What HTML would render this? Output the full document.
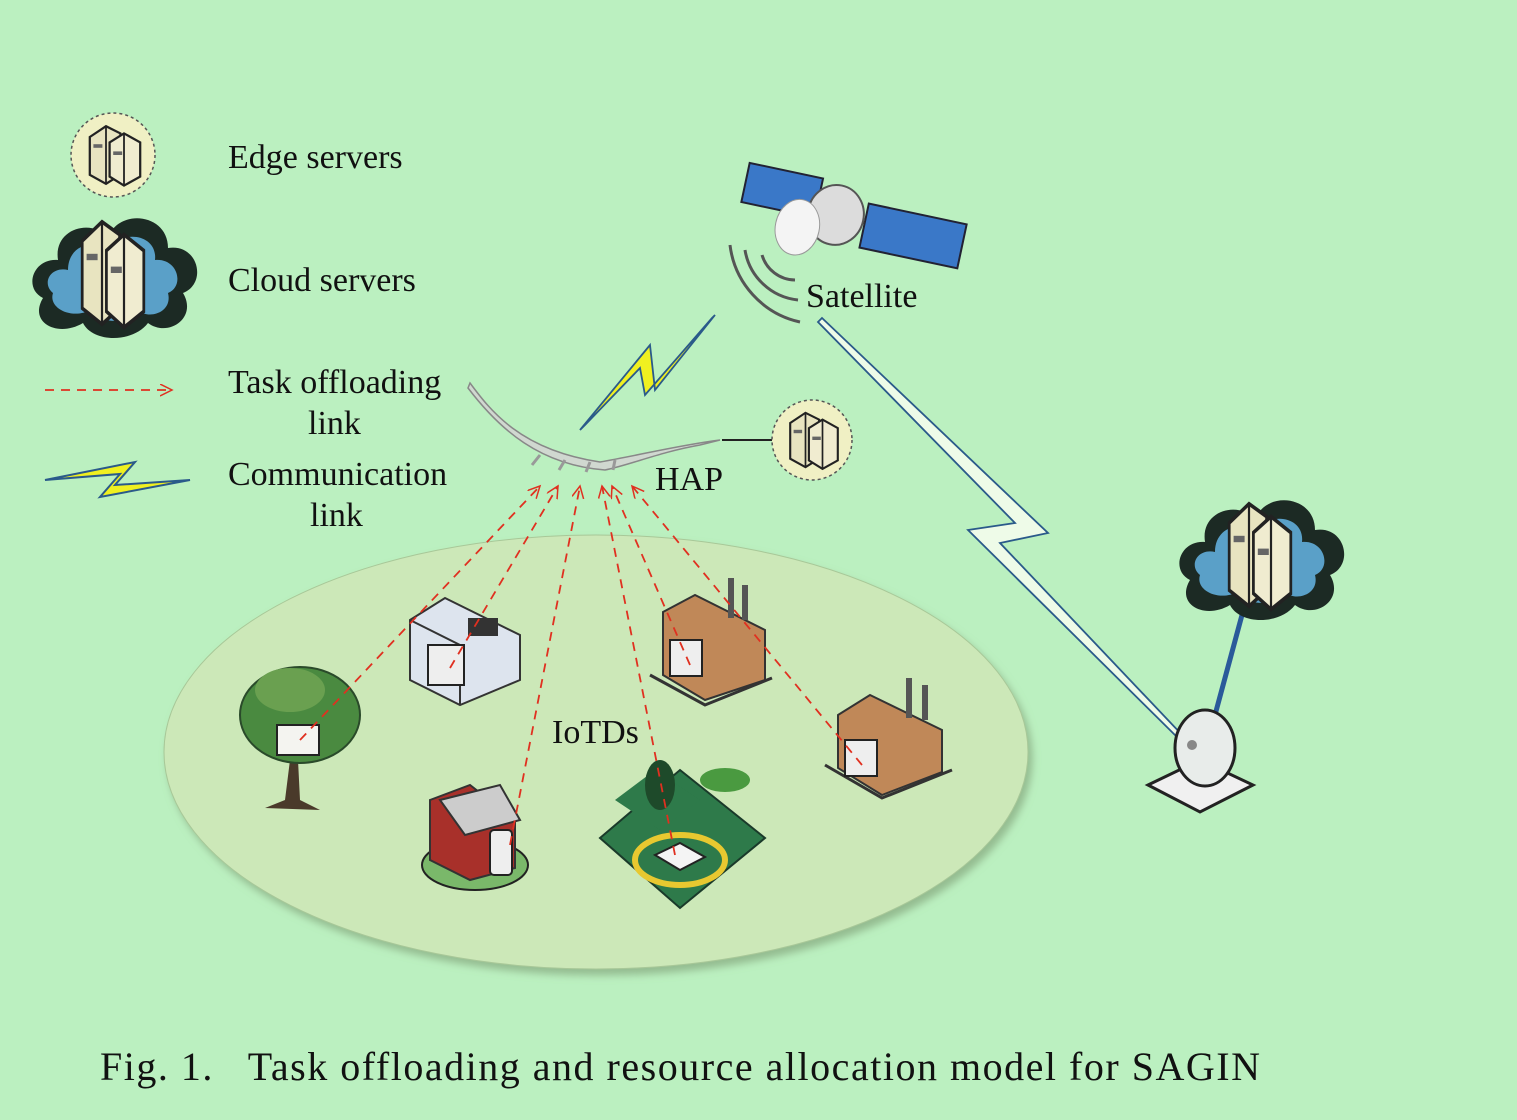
<!DOCTYPE html>
<html><head><meta charset="utf-8"><style>
html,body{margin:0;padding:0;background:#bbf0c0;}
svg{display:block;}
text{font-family:"Liberation Serif",serif;fill:#111;}
</style></head><body>
<svg width="1517" height="1120" viewBox="0 0 1517 1120" xmlns="http://www.w3.org/2000/svg">
<defs>
<filter id="sh" x="-10%" y="-10%" width="130%" height="130%"><feDropShadow dx="4" dy="6" stdDeviation="4" flood-color="#7a9a70" flood-opacity="0.6"/></filter>
<marker id="ar" markerWidth="14" markerHeight="14" refX="12" refY="6" orient="auto" markerUnits="userSpaceOnUse"><path d="M0,0 L12,6 L0,12" fill="none" stroke="#e03020" stroke-width="1.5"/></marker>
<g id="srv">
<path d="M-28,-20 L-10,-32 L6,-24 L6,22 L-10,32 L-28,22 Z" fill="#e8e4c0" stroke="#222" stroke-width="2.5"/>
<path d="M-10,-32 L-10,32" stroke="#222" stroke-width="2"/>
<path d="M-6,-14 L10,-24 L28,-14 L28,24 L10,34 L-6,24 Z" fill="#f0ecd0" stroke="#222" stroke-width="2.5"/>
<path d="M10,-24 L10,34" stroke="#222" stroke-width="2"/>
<rect x="-24" y="-12" width="10" height="4" fill="#666"/><rect x="-2" y="-4" width="10" height="4" fill="#666"/>
</g>
<g id="cloud">
<path d="M-70,20 C-90,10 -80,-20 -55,-18 C-60,-50 -20,-60 -5,-40 C5,-70 55,-65 55,-30 C85,-35 95,5 70,15 C85,40 55,60 35,45 C20,65 -20,65 -30,45 C-55,60 -85,45 -70,20 Z" fill="#1c2a24"/>
<path d="M-60,15 C-72,5 -62,-12 -45,-8 C-45,-35 -15,-40 -5,-25 C5,-50 45,-45 42,-18 C65,-20 72,8 55,15 C60,35 35,42 25,32 C15,48 -15,45 -22,32 C-42,42 -65,30 -60,15 Z" fill="#5aa0c8"/>
<g transform="translate(0,-5) scale(1.1,1.6)"><use href="#srv"/></g>
</g>
</defs>
<rect width="1517" height="1120" fill="#bbf0c0"/>

<ellipse cx="596" cy="752" rx="432" ry="217" fill="#cce8b8" stroke="#a8c898" stroke-width="1" filter="url(#sh)"/>

<!-- legend -->
<circle cx="113" cy="155" r="42" fill="#f0f0c4" stroke="#555" stroke-dasharray="3,3" stroke-width="1.5"/>
<g transform="translate(115,155) scale(0.9)"><use href="#srv"/></g>
<text x="228" y="168" font-size="34">Edge servers</text>
<g transform="translate(113,278)"><use href="#cloud"/></g>
<text x="228" y="291" font-size="34">Cloud servers</text>
<line x1="45" y1="390" x2="172" y2="390" stroke="#e03020" stroke-width="1.8" stroke-dasharray="9,7" marker-end="url(#ar)"/>
<text x="228" y="393" font-size="34">Task offloading</text>
<text x="308" y="434" font-size="34">link</text>
<polygon points="45,480 135,462 115,485 190,480 100,497 120,474" fill="#f0f020" stroke="#2a5a8a" stroke-width="2"/>
<text x="228" y="485" font-size="34">Communication</text>
<text x="310" y="526" font-size="34">link</text>

<!-- satellite -->
<g transform="rotate(12 850 220)">
<rect x="740" y="185" width="75" height="40" fill="#3a78c8" stroke="#223" stroke-width="2"/>
<rect x="865" y="200" width="100" height="45" fill="#3a78c8" stroke="#223" stroke-width="2"/>
<line x1="815" y1="210" x2="865" y2="220" stroke="#333" stroke-width="3"/>
<ellipse cx="835" cy="218" rx="28" ry="30" fill="#dcdcdc" stroke="#555" stroke-width="2"/>
<ellipse cx="800" cy="238" rx="22" ry="28" fill="#f4f4f4" stroke="#999"/>
</g>
<path d="M730,245 A90,90 0 0 0 800,322" fill="none" stroke="#555" stroke-width="3"/>
<path d="M745,250 A60,60 0 0 0 798,300" fill="none" stroke="#555" stroke-width="3"/>
<path d="M762,255 A35,35 0 0 0 795,280" fill="none" stroke="#555" stroke-width="3"/>
<text x="806" y="307" font-size="34">Satellite</text>

<!-- satellite link -->
<polygon points="822,318 1048,533 1000,543 1185,738 1180,740 968,530 1015,523 818,322" fill="#eefbe8" stroke="#2a5a8a" stroke-width="1.8"/>

<!-- HAP comm link -->
<polygon points="715,315 655,390 650,345 580,430 585,425 640,368 645,395 712,318" fill="#f0f020" stroke="#2a5a8a" stroke-width="1.8"/>

<!-- HAP -->
<path d="M470,383 C490,410 520,450 600,462 C640,455 680,445 720,440 L700,445 C660,452 630,465 605,470 C540,465 500,430 468,388 Z" fill="#d0d8d0" stroke="#888" stroke-width="1.5"/>
<path d="M540,455 l-8,10 M565,460 l-6,10 M590,462 l-4,10 M615,460 l-2,10" stroke="#999" stroke-width="3"/>
<text x="655" y="490" font-size="34">HAP</text>
<line x1="722" y1="440" x2="772" y2="440" stroke="#222" stroke-width="2"/>
<circle cx="812" cy="440" r="40" fill="#f0f0c4" stroke="#555" stroke-dasharray="3,3" stroke-width="1.5"/>
<g transform="translate(814,440) scale(0.85)"><use href="#srv"/></g>

<!-- right cloud + dish -->
<line x1="1242" y1="615" x2="1215" y2="715" stroke="#2a5a9a" stroke-width="5"/>
<g transform="translate(1260,560)"><use href="#cloud"/></g>
<path d="M1148,785 L1200,760 L1253,785 L1200,812 Z" fill="#f0f0f0" stroke="#222" stroke-width="3"/>
<ellipse cx="1205" cy="748" rx="30" ry="38" fill="#e8ecea" stroke="#222" stroke-width="3"/>
<circle cx="1192" cy="745" r="5" fill="#888"/>

<!-- IoT devices -->
<g>
<path d="M290,760 L285,800 L265,808 L320,810 L300,800 L298,760 Z" fill="#4a3a2a"/>
<ellipse cx="300" cy="715" rx="60" ry="48" fill="#4a8a40" stroke="#2a4a2a" stroke-width="2"/>
<ellipse cx="290" cy="690" rx="35" ry="22" fill="#6aa050"/>
<rect x="277" y="725" width="42" height="30" fill="#f4f4f0" stroke="#222" stroke-width="2"/>
<path d="M410,620 L445,598 L520,635 L520,680 L460,705 L410,680 Z" fill="#dde4ee" stroke="#333" stroke-width="2"/>
<path d="M410,620 L460,645 L460,705" fill="none" stroke="#333" stroke-width="2"/>
<rect x="468" y="618" width="30" height="18" fill="#333"/>
<rect x="428" y="645" width="36" height="40" fill="#eee" stroke="#222" stroke-width="2"/>
<path d="M663,612 L695,595 L765,630 L765,680 L705,700 L663,675 Z" fill="#c08858" stroke="#333" stroke-width="2"/>
<path d="M650,675 L705,705 L772,678" fill="none" stroke="#333" stroke-width="3"/>
<rect x="728" y="578" width="6" height="40" fill="#555"/><rect x="742" y="585" width="6" height="35" fill="#555"/>
<rect x="670" y="640" width="32" height="36" fill="#eee" stroke="#222" stroke-width="2"/>
<path d="M838,715 L870,695 L942,730 L942,772 L882,795 L838,768 Z" fill="#c08858" stroke="#333" stroke-width="2"/>
<path d="M825,765 L882,798 L952,770" fill="none" stroke="#333" stroke-width="3"/>
<rect x="906" y="678" width="6" height="40" fill="#555"/><rect x="922" y="685" width="6" height="35" fill="#555"/>
<rect x="845" y="740" width="32" height="36" fill="#eee" stroke="#222" stroke-width="2"/>
<ellipse cx="475" cy="865" rx="53" ry="25" fill="#7ab86a" stroke="#222" stroke-width="2"/>
<path d="M430,800 L470,785 L515,820 L515,868 L470,880 L430,860 Z" fill="#a8302a" stroke="#333" stroke-width="2"/>
<path d="M440,800 L500,785 L520,820 L465,835 Z" fill="#ccc" stroke="#333" stroke-width="2"/>
<rect x="490" y="830" width="22" height="45" rx="4" fill="#eee" stroke="#222" stroke-width="2"/>
<path d="M600,838 L680,770 L765,838 L680,908 Z" fill="#2e7a4a" stroke="#1a3a2a" stroke-width="2"/>
<path d="M615,800 L655,770 L700,800 L660,830 Z" fill="#2e7a4a"/>
<ellipse cx="680" cy="860" rx="45" ry="25" fill="none" stroke="#e8c830" stroke-width="6"/>
<ellipse cx="660" cy="785" rx="15" ry="25" fill="#1e4a2a"/>
<ellipse cx="725" cy="780" rx="25" ry="12" fill="#4a9a40"/>
<path d="M655,855 L680,843 L705,857 L680,870 Z" fill="#f4f4f4" stroke="#222" stroke-width="2"/>
</g>

<g stroke="#e03020" stroke-width="1.8" stroke-dasharray="9,7" fill="none">
<line x1="300" y1="740" x2="540" y2="486" marker-end="url(#ar)"/>
<line x1="450" y1="668" x2="558" y2="486" marker-end="url(#ar)"/>
<line x1="510" y1="845" x2="580" y2="486" marker-end="url(#ar)"/>
<line x1="675" y1="855" x2="602" y2="486" marker-end="url(#ar)"/>
<line x1="690" y1="665" x2="612" y2="486" marker-end="url(#ar)"/>
<line x1="862" y1="765" x2="632" y2="486" marker-end="url(#ar)"/>
</g>
<text x="552" y="743" font-size="34">IoTDs</text>

<text x="100" y="1080" font-size="40" textLength="1160" lengthAdjust="spacing" xml:space="preserve">Fig. 1.   Task offloading and resource allocation model for SAGIN</text>
</svg>
</body></html>
